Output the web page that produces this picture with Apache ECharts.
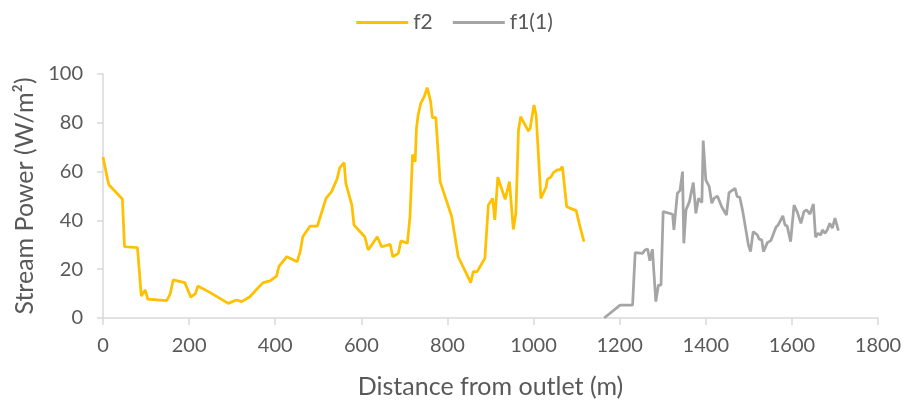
<!DOCTYPE html>
<html>
<head>
<meta charset="utf-8">
<script src="https://cdn.jsdelivr.net/npm/echarts@6/dist/echarts.min.js"></script>
<style>html,body{margin:0;padding:0;background:#fff;}#c{width:909px;height:406px;}</style>
</head>
<body>
<div id="c"></div>
<script>
var xTicks = [0, 200, 400, 600, 800, 1000, 1200, 1400, 1600, 1800];
var yTicks = [0, 20, 40, 60, 80, 100];
var f2X = [0,11,14,45,50,80,89,98,104,148,156,163,190,204,215,220,245,291,310,322,341,357,372,388,403,409,427,451,458,464,481,498,518,531,544,550,560,564,578,583,608,616,637,647,667,673,686,692,707,713,719,725,728,732,738,746,753,761,765,773,783,810,825,854,860,869,887,895,905,910,917,934,944,947,953,959,965,970,988,992,1001,1006,1017,1029,1032,1040,1046,1055,1061,1067,1077,1099,1106,1117];
var f2Y = [66,56.5,54.5,48.8,29.2,28.8,9,11.5,7.7,7.1,9.8,15.6,14.5,8.5,10.1,13.1,10.8,6,7.4,6.7,8.7,11.8,14.5,15.2,17.2,21.3,25.1,23.1,27.2,33.3,37.7,37.7,49,51.8,57.2,61.6,63.7,55.2,46.3,38.1,33.3,27.9,33.3,29.2,30.2,25.1,26.5,31.6,30.6,41.5,67,64,77.7,83.2,88,90.7,94.4,88.7,82.1,82.1,55.9,41.5,25.1,14.5,19,19,24.5,46.3,49,40.2,57.7,48.6,55.9,55.5,36.3,42.9,77,82.5,76.6,77.7,87.3,83.2,49,53.6,56.8,57.7,59.6,60.7,60.7,62,45.6,44,38.8,31.3];
var f1X = [1164,1201,1230,1236,1253,1259,1265,1270,1276,1284,1290,1296,1301,1323,1326,1334,1340,1346,1349,1354,1362,1371,1377,1383,1391,1394,1400,1408,1414,1419,1427,1437,1448,1454,1468,1473,1479,1486,1489,1499,1504,1510,1520,1524,1530,1534,1543,1551,1563,1568,1572,1579,1584,1589,1597,1605,1613,1621,1628,1634,1642,1650,1655,1661,1667,1671,1677,1682,1688,1694,1700,1708];
var f1Y = [0,5.3,5.3,26.8,26.5,27.9,28.3,23.5,28.2,6.7,13.5,13.5,43.6,42.5,36.1,51.1,52.2,60,30.6,44.3,47.7,55.5,42.9,49,47.3,72.7,56.6,53.8,47,49,50,45.6,42.2,51.4,53.1,49.7,49.5,43.6,43.6,29.9,27.2,35.4,34,32.3,32,27.2,30.9,31.7,37.2,38.1,37.7,41.9,38.1,37.7,31.3,46.3,43.2,38.8,43.6,44.3,42.6,46.7,33.1,34.7,34,36.1,34.7,36.1,38.8,36.8,40.9,35.8];

function zip(a, b) { return a.map(function (v, i) { return [v, b[i]]; }); }
function plain(v) { return String(v); }

var FONT = 'Lato';
var TXT = '#595959';
var chart = echarts.init(document.getElementById('c'), null, {renderer: 'canvas'});
chart.setOption({
  animation: false,
  backgroundColor: '#fff',
  textStyle: {fontFamily: FONT},
  legend: {
    top: 7,
    left: 'center',
    itemWidth: 52,
    itemHeight: 3,
    itemGap: 20,
    icon: 'rect',
    textStyle: {fontFamily: FONT, fontSize: 21, color: TXT},
    data: ['f2', 'f1(1)']
  },
  grid: {left: 103, right: 31, top: 74, bottom: 88, containLabel: false},
  xAxis: {
    type: 'value',
    min: xTicks[0], max: xTicks[xTicks.length - 1], interval: 200,
    name: 'Distance from outlet (m)',
    nameLocation: 'middle', nameGap: 56,
    nameTextStyle: {fontFamily: FONT, fontSize: 25, color: TXT},
    axisLine: {show: true, lineStyle: {color: '#D9D9D9', width: 1.5}},
    axisTick: {show: true, length: 7, lineStyle: {color: '#D9D9D9', width: 1.5}},
    axisLabel: {fontFamily: FONT, fontSize: 20, color: TXT, margin: 18, formatter: plain},
    splitLine: {show: false}
  },
  yAxis: {
    type: 'value',
    min: yTicks[0], max: yTicks[yTicks.length - 1], interval: 20,
    name: 'Stream Power (W/m²)',
    nameLocation: 'middle', nameGap: 64,
    nameTextStyle: {fontFamily: FONT, fontSize: 25, color: TXT},
    axisLine: {show: true, lineStyle: {color: '#D9D9D9', width: 1.5}},
    axisTick: {show: true, length: 6, lineStyle: {color: '#D9D9D9', width: 1.5}},
    axisLabel: {fontFamily: FONT, fontSize: 20, color: TXT, margin: 20, formatter: plain},
    splitLine: {show: false}
  },
  series: [
    {name: 'f2', type: 'line', data: zip(f2X, f2Y), showSymbol: false, symbol: 'none',
     color: '#FFC000', lineStyle: {color: '#FFC000', width: 2.75}},
    {name: 'f1(1)', type: 'line', data: zip(f1X, f1Y), showSymbol: false, symbol: 'none',
     color: '#A5A5A5', lineStyle: {color: '#A5A5A5', width: 2.75}}
  ]
});
</script>
</body>
</html>
